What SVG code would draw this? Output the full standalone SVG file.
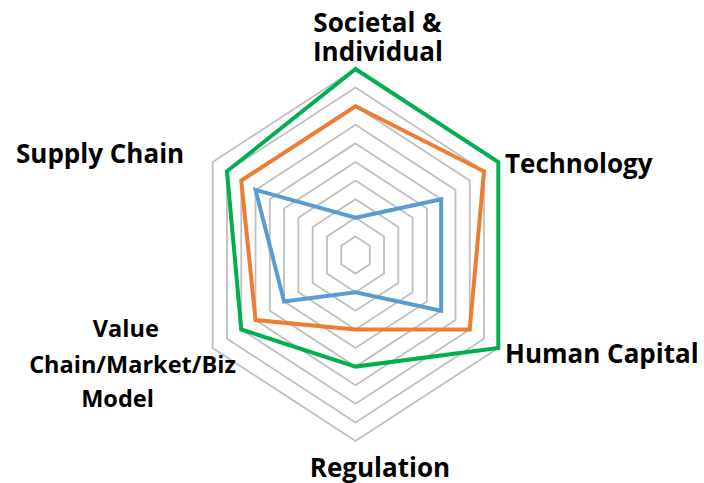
<svg xmlns="http://www.w3.org/2000/svg" width="704" height="483" viewBox="0 0 704 483">
<style>
.grid{fill:none;stroke:#BFBFBF;stroke-width:1.8;stroke-linejoin:miter}
.s{fill:none;stroke-width:4;stroke-linejoin:miter}
.lbl{font-family:"Open Sans","Liberation Sans",sans-serif;font-weight:bold;font-size:26px;fill:#000}
.sm{font-size:23.5px}
</style>
<rect width="704" height="483" fill="#fff"/>
<g id="grid">
<polygon class="grid" points="355.5,236.4 369.78,245.7 369.78,264.3 355.5,273.6 341.22,264.3 341.22,245.7"/>
<polygon class="grid" points="355.5,217.8 384.06,236.4 384.06,273.6 355.5,292.2 326.94,273.6 326.94,236.4"/>
<polygon class="grid" points="355.5,199.2 398.34,227.1 398.34,282.9 355.5,310.8 312.66,282.9 312.66,227.1"/>
<polygon class="grid" points="355.5,180.6 412.62,217.8 412.62,292.2 355.5,329.4 298.38,292.2 298.38,217.8"/>
<polygon class="grid" points="355.5,162 426.9,208.5 426.9,301.5 355.5,348 284.1,301.5 284.1,208.5"/>
<polygon class="grid" points="355.5,143.4 441.18,199.2 441.18,310.8 355.5,366.6 269.82,310.8 269.82,199.2"/>
<polygon class="grid" points="355.5,124.8 455.46,189.9 455.46,320.1 355.5,385.2 255.54,320.1 255.54,189.9"/>
<polygon class="grid" points="355.5,106.2 469.74,180.6 469.74,329.4 355.5,403.8 241.26,329.4 241.26,180.6"/>
<polygon class="grid" points="355.5,87.6 484.02,171.3 484.02,338.7 355.5,422.4 226.98,338.7 226.98,171.3"/>
<polygon class="grid" points="355.5,69 498.3,162 498.3,348 355.5,441 212.7,348 212.7,162"/>
</g>
<g id="series">
<polygon id="series-blue" class="s" stroke="#5B9BD5" points="355.5,217.8 441.18,199.2 441.18,310.8 355.5,292.2 284.1,301.5 255.54,189.9"/>
<polygon id="series-orange" class="s" stroke="#ED7D31" points="355.5,106.2 484.02,171.3 469.74,329.4 355.5,329.4 255.54,320.1 241.26,180.6"/>
<polygon id="series-green" class="s" stroke="#00B050" points="355.5,69 498.3,162 498.3,348 355.5,366.6 241.26,329.4 226.98,171.3"/>
</g>
<g id="label-societal">
<text class="lbl" x="377.5" y="31.5" text-anchor="middle">Societal &amp;</text>
<text class="lbl" x="378" y="61" text-anchor="middle">Individual</text>
</g>
<g id="label-technology"><text class="lbl" x="505" y="172.7">Technology</text></g>
<g id="label-human-capital"><text class="lbl" x="505" y="363.3">Human Capital</text></g>
<g id="label-regulation"><text class="lbl" x="380" y="476.5" text-anchor="middle">Regulation</text></g>
<g id="label-value-chain">
<text class="lbl sm" x="125.8" y="336.7" text-anchor="middle">Value</text>
<text class="lbl sm" x="132.5" y="373.3" text-anchor="middle">Chain/Market/Biz</text>
<text class="lbl sm" x="117.5" y="407.3" text-anchor="middle">Model</text>
</g>
<g id="label-supply-chain"><text class="lbl" x="16" y="163.3">Supply Chain</text></g>
</svg>
